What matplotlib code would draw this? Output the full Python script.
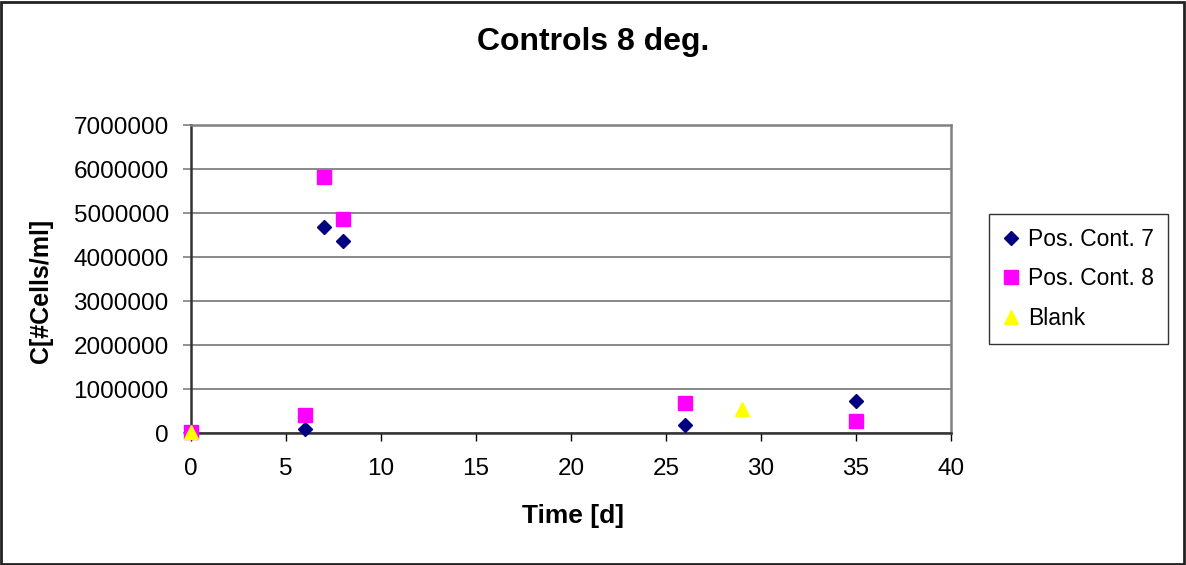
import numpy as np
import matplotlib.pyplot as plt

plt.rcParams['font.family'] = ['Liberation Sans', 'DejaVu Sans']

## values
days_7 = [0, 6, 7, 8, 26, 35]
cells_7 = [20000, 90000, 4680000, 4360000, 190000, 720000]

days_8 = [0, 6, 7, 8, 26, 35]
cells_8 = [30000, 400000, 5820000, 4860000, 680000, 270000]

days_blank = [0, 29]
cells_blank = [30000, 540000]

x_ticks = np.arange(0, 41, 5)
y_ticks = np.arange(0, 7000001, 1000000)

fig = plt.figure(figsize=(11.86, 5.65), dpi=100)
ax = fig.add_axes([191/1186, 1-433/565, 760/1186, 308/565])

ax.plot(days_7, cells_7, linestyle='none', marker='D', ms=7.5, color='#000080',
        mec='#000080', label='Pos. Cont. 7', clip_on=False, zorder=3)
ax.plot(days_8, cells_8, linestyle='none', marker='s', ms=10, color='#FF00FF',
        mec='#FF00FF', label='Pos. Cont. 8', clip_on=False, zorder=3)
ax.plot(days_blank, cells_blank, linestyle='none', marker='^', ms=10, color='#FFFF00',
        mec='#FFFF00', label='Blank', clip_on=False, zorder=3)

ax.set_xlim(0, 40)
ax.set_ylim(0, 7000000)
ax.set_xticks(x_ticks)
ax.set_yticks(y_ticks)
ax.set_yticklabels([str(v) for v in y_ticks])
ax.grid(axis='y', color='#808080', linewidth=1.3)
ax.set_axisbelow(True)

ax.tick_params(axis='y', direction='out', length=6, width=1.2, color='#808080',
               labelsize=17.5, pad=10)
ax.tick_params(axis='x', direction='out', length=6, width=1.0, color='black',
               labelsize=17.5, pad=12)

for side in ['top', 'right']:
    ax.spines[side].set_color('#808080')
    ax.spines[side].set_linewidth(1.8)
for side in ['left', 'bottom']:
    ax.spines[side].set_color('#333333')
    ax.spines[side].set_linewidth(1.8)

fig.text(0.5, 1-42/565, 'Controls 8 deg.', ha='center', va='center',
         fontsize=23, fontweight='bold')
fig.text(573/1186, 1-516/565, 'Time [d]', ha='center', va='center',
         fontsize=19, fontweight='bold')
fig.text(41.5/1186, 1-291/565, 'C[#Cells/ml]', ha='center', va='center',
         rotation=90, fontsize=18, fontweight='bold')

leg = fig.legend(loc='center left', bbox_to_anchor=(989/1186, 1-279/565),
                 fontsize=16.5, frameon=True, fancybox=False, edgecolor='black',
                 handlelength=0.7, handletextpad=0.4, labelspacing=0.72,
                 borderpad=0.6, borderaxespad=0, markerscale=1.0)
leg.get_frame().set_linewidth(1.0)

# outer chart border
fig.patches.append(plt.Rectangle((0.001, 0.002), 0.997, 0.995, transform=fig.transFigure,
                                 fill=False, edgecolor='#222222', linewidth=2))

fig.savefig('out.png', dpi=100)
